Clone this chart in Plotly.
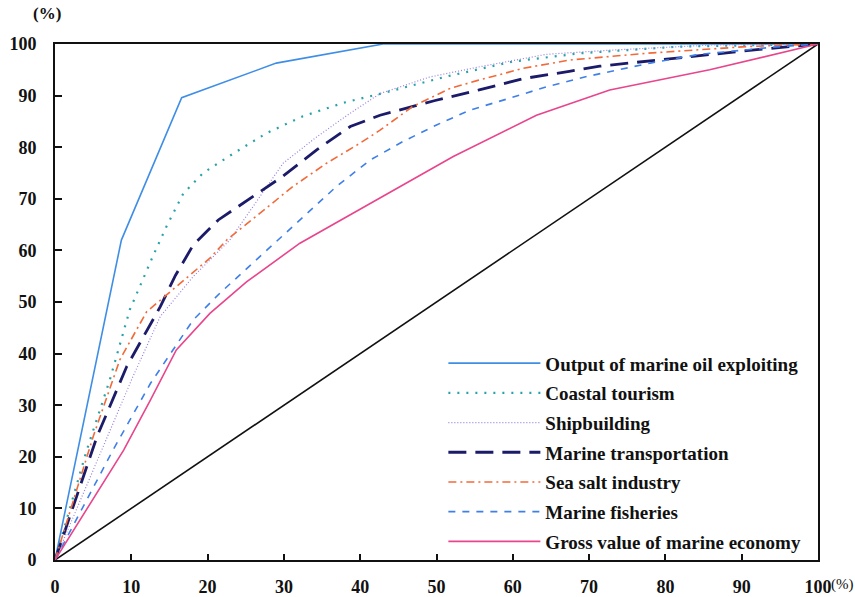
import plotly.graph_objects as go

# ---- data (percent) ----
series_names = [
    "Output of marine oil exploiting",
    "Coastal tourism",
    "Shipbuilding",
    "Marine transportation",
    "Sea salt industry",
    "Marine fisheries",
    "Gross value of marine economy",
]

oil_x = [0, 8.7, 16.6, 29, 43, 100]
oil_y = [0, 62, 89.6, 96.3, 100, 100]

tour_x = [0, 4.1, 7.2, 9.8, 12.9, 14.6, 16.8, 19.4, 23.4, 27.7, 32.5, 37.8, 43, 51.3, 60, 68.8, 81.9, 100]
tour_y = [0, 21, 35, 48.5, 59.1, 64.6, 71, 75, 78.8, 82.7, 86, 88.6, 90.5, 93.7, 96.6, 98.2, 99.5, 100]

ship_x = [0, 6.3, 10.2, 13.8, 18.1, 22.9, 26.9, 29.9, 34.3, 38.7, 42.6, 49.1, 55.7, 64.4, 72.7, 86, 100]
ship_y = [0, 22, 35.5, 47.2, 54.9, 62, 70.4, 76.9, 82, 86.6, 90.4, 93.6, 95.6, 98, 98.8, 99.8, 100]

trans_x = [0, 5.5, 9.4, 13.8, 15.8, 18.1, 21.4, 25.6, 29.9, 34.3, 38.7, 42.6, 49.7, 55.6, 61.4, 67.4, 71.4, 79.7, 85.8, 92, 100]
trans_y = [0, 23.9, 37.5, 49.1, 55.2, 61, 65.9, 70.1, 74.4, 79.5, 84, 86.2, 89, 91.1, 93.3, 94.7, 95.7, 97, 98, 98.9, 100]

salt_x = [0, 5, 8.5, 12, 16.4, 20.3, 22.5, 26.9, 31.2, 35.6, 40, 42.6, 46.9, 51.8, 55.3, 61.4, 67.5, 77.5, 90.7, 100]
salt_y = [0, 23.9, 38.8, 48.1, 53.6, 58.5, 62, 67.2, 72.4, 76.9, 80.8, 83.3, 87.9, 91.4, 92.9, 95.3, 96.9, 98.2, 99.5, 100]

fish_x = [0, 7.6, 12.5, 18.1, 21.6, 24.7, 27.7, 32.1, 36.9, 41.3, 45.6, 50, 54.4, 59.6, 64.4, 69.7, 78, 84.5, 95, 100]
fish_y = [0, 21.3, 34.2, 46.5, 51.7, 55.9, 60, 65.9, 72.4, 77.5, 81.1, 84.3, 87.2, 89.5, 91.7, 93.7, 96.3, 98, 99.5, 100]

gross_x = [0, 9, 12.5, 15.9, 20.3, 25.1, 32.1, 36.9, 42.6, 52.2, 63.1, 72.7, 85.8, 97.6, 100]
gross_y = [0, 21.3, 31, 40.7, 47.8, 53.9, 61.4, 65.4, 70.1, 78.2, 86.2, 91.1, 95, 99.2, 100]

equal_x = [0, 100]
equal_y = [0, 100]

x_tick_vals = [0, 10, 20, 30, 40, 50, 60, 70, 80, 90, 100]
x_tick_text = ["0", "10", "20", "30", "40", "50", "60", "70", "80", "90", "100"]
y_tick_vals = [0, 10, 20, 30, 40, 50, 60, 70, 80, 90, 100]

xs = [oil_x, tour_x, ship_x, trans_x, salt_x, fish_x, gross_x]
ys = [oil_y, tour_y, ship_y, trans_y, salt_y, fish_y, gross_y]

styles = [
    dict(color="#3f8ee6", width=1.6, dash="solid"),
    dict(color="#27a3a8", width=2.2, dash="2px,7px"),
    dict(color="#9a7fe0", width=1.2, dash="1px,2px"),
    dict(color="#1b1b6a", width=2.8, dash="18px,9px"),
    dict(color="#f26a3a", width=1.6, dash="8px,4px,2px,4px"),
    dict(color="#3f7fe8", width=1.6, dash="7px,7px"),
    dict(color="#e8458c", width=1.6, dash="solid"),
]

serif = "Liberation Serif, Times New Roman, serif"

fig = go.Figure()

fig.add_trace(go.Scatter(x=equal_x, y=equal_y, mode="lines",
                         line=dict(color="#111111", width=1.6),
                         showlegend=False, hoverinfo="skip"))

for i, (name, x, y, st) in enumerate(zip(series_names, xs, ys, styles)):
    fig.add_trace(go.Scatter(x=x, y=y, mode="lines", name=name,
                             line=st, legendgroup=f"g{i}"))

fig.update_layout(
    width=855, height=597,
    margin=dict(l=55, r=37, t=44, b=37),
    paper_bgcolor="white", plot_bgcolor="white",
    font=dict(family=serif, color="#111111"),
    showlegend=True,
    legend=dict(
        x=0.509, y=0.418, xanchor="left", yanchor="top",
        bgcolor="rgba(0,0,0,0)", borderwidth=0,
        font=dict(family=serif, size=19, weight="bold", color="#111111"),
        itemwidth=92, traceorder="grouped", tracegroupgap=2,
    ),
    annotations=[
        dict(text="(%)", x=0, y=1, xref="paper", yref="paper",
             xanchor="right", yanchor="bottom", xshift=8, yshift=19,
             showarrow=False, font=dict(family=serif, size=17, weight="bold")),
        dict(text="(%)", x=1, y=0, xref="paper", yref="paper",
             xanchor="left", yanchor="top", xshift=11, yshift=-14,
             showarrow=False, font=dict(family=serif, size=15)),
    ],
)

fig.update_xaxes(
    range=[0, 100], tickmode="array", tickvals=x_tick_vals, ticktext=x_tick_text,
    showgrid=False, zeroline=False, automargin=False,
    showline=True, linecolor="#111111", linewidth=2, mirror=True,
    ticks="inside", ticklen=6, tickwidth=1.5, tickcolor="#111111",
    tickfont=dict(family=serif, size=18, weight="bold", color="#111111"),
    ticklabelstandoff=9,
)
fig.update_yaxes(
    range=[0, 100], tickmode="array", tickvals=y_tick_vals,
    showgrid=False, zeroline=False, automargin=False,
    showline=True, linecolor="#111111", linewidth=2, mirror=True,
    ticks="inside", ticklen=7, tickwidth=1.5, tickcolor="#111111",
    tickfont=dict(family=serif, size=18, weight="bold", color="#111111"),
    ticklabelstandoff=13,
)

fig.write_html("out.html", config={"displayModeBar": False},
               post_script="document.body.style.margin='0';")
